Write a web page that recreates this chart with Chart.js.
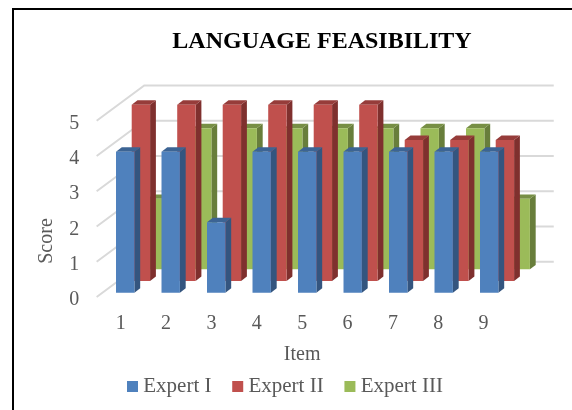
<!DOCTYPE html>
<html>
<head>
<meta charset="utf-8">
<style>
  html, body { margin: 0; padding: 0; background: #fff; }
  #wrap { position: relative; width: 572px; height: 410px; }
</style>
<script src="https://cdn.jsdelivr.net/npm/chart.js@4"></script>
</head>
<body>
<div id="wrap"><canvas id="chart" width="572" height="410"></canvas></div>
<script>
// Chart values
const items = ['1', '2', '3', '4', '5', '6', '7', '8', '9'];
const seriesNames = ['Expert I', 'Expert II', 'Expert III'];
const expertI = [4, 4, 2, 4, 4, 4, 4, 4, 4];
const expertII = [5, 5, 5, 5, 5, 5, 4, 4, 4];
const expertIII = [2, 4, 4, 4, 4, 4, 4, 4, 2];

// Face colours per series: front, side, top
const faces = [
  { front: '#4f81bd', side: '#34557f', top: '#3c6494' },
  { front: '#c0504d', side: '#7f302e', top: '#963c3a' },
  { front: '#9bbb59', side: '#687e3b', top: '#778f45' }
];

// Oblique projection used for the walls and the rows of bars
const rowShift = [[5.8, -4.3], [21.5, -16], [37.3, -27.7]];
const wallShift = [47.6, -35.3];
const barDepth = [5.8, -4.4];

const font = (size, weight) => ({ family: '"Liberation Serif", "Times New Roman", serif', size, weight: weight || 'normal', lineHeight: 1.2 });
const grey = '#595959';

// Places the plot, the axes and the text blocks inside the frame
const placement = {
  id: 'placement',
  afterLayout(chart) {
    const { x, y, xTicks } = chart.scales;
    x.left = 96.65; x.right = 506.15; x.width = x.right - x.left;
    x.configure();
    y.left = 35; y.right = 96.65; y.top = 120.7; y.bottom = 297; y.height = y.bottom - y.top;
    y.configure();
    // the axis name sits lower than the middle of the value range
    y.top = 153; y.bottom = 329;
    xTicks.left = 98; xTicks.right = 506.3; xTicks.width = xTicks.right - xTicks.left;
    xTicks.top = 312; xTicks.bottom = 367; xTicks.height = xTicks.bottom - xTicks.top;
    xTicks.configure();
    const t = chart.titleBlock;
    t.left = 122; t.right = 522; t.top = 27; t.bottom = 56;
    const l = chart.legend;
    const gap = l.options.labels.padding;
    const start = (l.left + gap + l.right - l.lineWidths[0]) / 2;
    l.left += 132.25 - start; l.right += 132.25 - start;
    l.top = 350; l.bottom = 410;
  }
};

// Frame along the top and left edges, then the wall grid behind the bars
const backdrop = {
  id: 'backdrop',
  beforeDatasetsDraw(chart) {
    const { ctx } = chart;
    const { x, y } = chart.scales;
    ctx.save();
    ctx.strokeStyle = '#000';
    ctx.lineWidth = 2;
    ctx.beginPath();
    ctx.moveTo(13, 410); ctx.lineTo(13, 9); ctx.lineTo(572, 9);
    ctx.stroke();
    ctx.strokeStyle = '#d9d9d9';
    ctx.lineWidth = 2;
    y.ticks.forEach(t => {
      const py = y.getPixelForValue(t.value);
      ctx.beginPath();
      ctx.moveTo(x.left, py);
      ctx.lineTo(x.left + wallShift[0], py + wallShift[1]);
      ctx.lineTo(x.right + wallShift[0], py + wallShift[1]);
      ctx.stroke();
    });
    ctx.restore();
  }
};

// Moves each series to its row and adds the side and top faces of its bars
const extrude = {
  id: 'extrude',
  beforeDatasetDraw(chart, { index, meta }) {
    const { ctx } = chart;
    const [dx, dy] = barDepth;
    ctx.save();
    ctx.translate(rowShift[index][0], rowShift[index][1]);
    meta.data.forEach(bar => {
      const l = bar.x - bar.width / 2, r = bar.x + bar.width / 2;
      ctx.fillStyle = faces[index].side;
      ctx.beginPath();
      ctx.moveTo(r, bar.y); ctx.lineTo(r + dx, bar.y + dy);
      ctx.lineTo(r + dx, bar.base + dy); ctx.lineTo(r, bar.base);
      ctx.closePath(); ctx.fill();
      ctx.fillStyle = faces[index].top;
      ctx.beginPath();
      ctx.moveTo(l, bar.y); ctx.lineTo(l + dx, bar.y + dy);
      ctx.lineTo(r + dx, bar.y + dy); ctx.lineTo(r, bar.y);
      ctx.closePath(); ctx.fill();
    });
  },
  afterDatasetDraw(chart) {
    chart.ctx.restore();
  }
};

const dataset = (label, data, i) => ({
  label, data,
  backgroundColor: faces[i].front,
  borderWidth: 0,
  grouped: false,
  barPercentage: 0.404,
  categoryPercentage: 1,
  clip: false
});

new Chart(document.getElementById('chart'), {
  type: 'bar',
  data: {
    labels: items,
    datasets: [
      dataset(seriesNames[0], expertI, 0),
      dataset(seriesNames[1], expertII, 1),
      dataset(seriesNames[2], expertIII, 2)
    ]
  },
  plugins: [placement, backdrop, extrude],
  options: {
    responsive: false,
    animation: false,
    scales: {
      x: { type: 'category', display: false, offset: true },
      xTicks: {
        type: 'category', axis: 'x', position: 'bottom', offset: true,
        grid: { display: false, drawTicks: false }, border: { display: false },
        ticks: { color: grey, font: font(20), padding: 0, maxRotation: 0, autoSkip: false },
        title: { display: true, text: 'Item', color: grey, font: font(20), padding: 0 }
      },
      y: {
        min: 0, max: 5,
        grid: { display: false, drawTicks: false }, border: { display: false },
        ticks: { color: grey, font: font(20), padding: 17.5, stepSize: 1, labelOffset: 3 },
        title: { display: true, text: 'Score', color: grey, font: font(20), padding: 0 }
      }
    },
    plugins: {
      title: { display: true, text: 'LANGUAGE FEASIBILITY', color: '#000', font: font(24, 'bold'), padding: 0 },
      legend: {
        position: 'bottom',
        labels: {
          color: grey, font: font(21), usePointStyle: true, pointStyle: 'rect',
          boxWidth: 0.5, boxHeight: 11, padding: 26
        }
      },
      tooltip: { enabled: false }
    }
  }
});
</script>
</body>
</html>
